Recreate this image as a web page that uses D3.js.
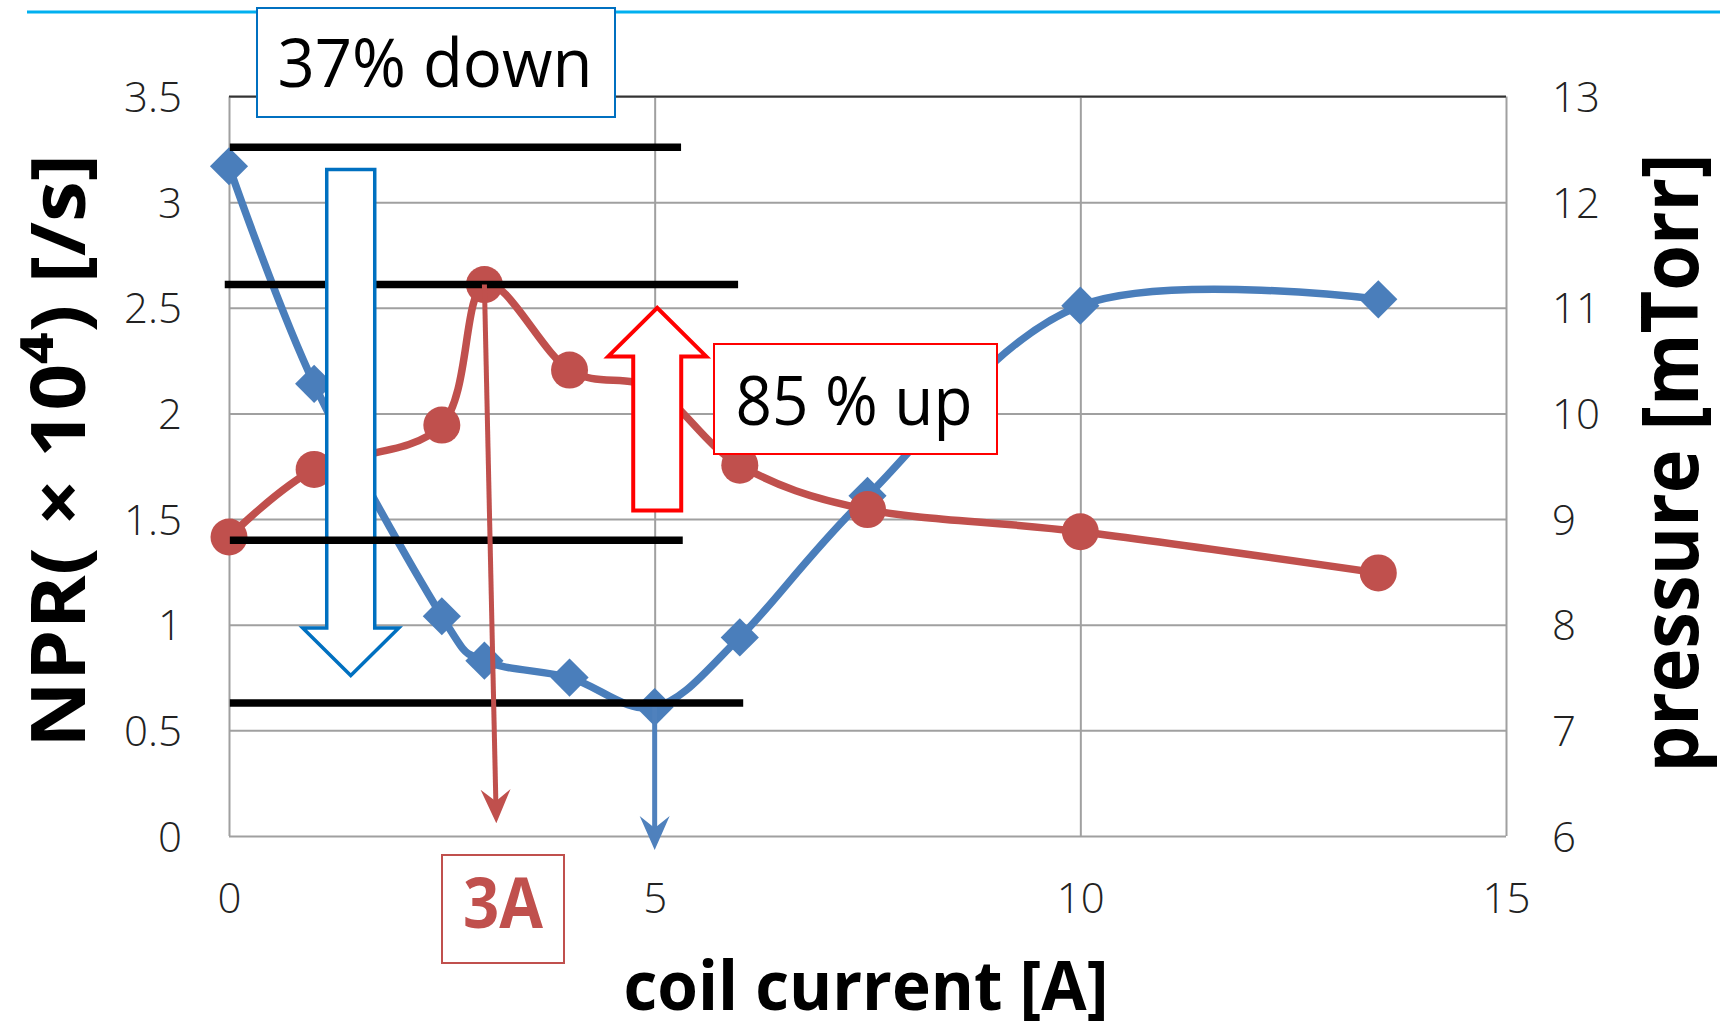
<!DOCTYPE html>
<html>
<head>
<meta charset="utf-8">
<script src="https://cdn.jsdelivr.net/npm/d3@7"></script>
<style>
  body { margin: 0; background: #fff; }
  svg { display: block; }
  .tick text { font-family: "Open Sans", sans-serif; font-weight: 300; fill: #222; }
</style>
</head>
<body>
<script>
// coil current [A] for every measured point
var current = [0, 1, 2.5, 3, 4, 5, 6, 7.5, 10, 13.5];
// NPR (x10^4 /s), left axis
var npr = [3.17, 2.14, 1.04, 0.83, 0.75, 0.61, 0.94, 1.61, 2.51, 2.54];
// pressure [mTorr], right axis
var pressure = [8.83, 9.47, 9.89, 11.22, 10.41, 10.23, 9.51, 9.09, 8.88, 8.49];

var xTicks = [0, 5, 10, 15];
var nprTicks = [0, 0.5, 1, 1.5, 2, 2.5, 3, 3.5];
var pressureTicks = [6, 7, 8, 9, 10, 11, 12, 13];

(function(){
    var width = 1720, height = 1032;
    var left = 229, right = 1506, top = 96.5, bottom = 836;

    var svg = d3.select("body").append("svg")
        .attr("width", width)
        .attr("height", height);

    var x = d3.scaleLinear().domain([0, 15]).range([left, right]);
    var yL = d3.scaleLinear().domain([0, 3.5]).range([bottom, top]);
    var yR = d3.scaleLinear().domain([6, 13]).range([bottom, top]);

    var blue = "#4a7ebb", red = "#c0504d";

    //cyan rule at the top of the slide
    svg.append("line")
        .attr("x1", 27).attr("x2", width)
        .attr("y1", 12).attr("y2", 12)
        .attr("stroke", "#00b0f0").attr("stroke-width", 3);

    //axes with gridlines
    var xAxis = svg.append("g")
        .attr("transform", "translate(0," + bottom + ")")
        .call(d3.axisBottom(x).tickValues(xTicks).tickSize(-(bottom - top)).tickPadding(47).tickFormat(d3.format("d")));
    var lAxis = svg.append("g")
        .attr("transform", "translate(" + left + ",0)")
        .call(d3.axisLeft(yL).tickValues(nprTicks).tickSize(-(right - left)).tickPadding(47).tickFormat(function(d){ return String(d); }));
    var rAxis = svg.append("g")
        .attr("transform", "translate(" + right + ",0)")
        .call(d3.axisRight(yR).tickValues(pressureTicks).tickSize(0).tickPadding(46).tickFormat(d3.format("d")));

    [xAxis, lAxis, rAxis].forEach(function(g){
        g.select(".domain").remove();
        g.selectAll(".tick line").attr("stroke", "#a0a0a0").attr("stroke-width", 2);
        g.selectAll(".tick text").attr("font-size", 42);
    });
    lAxis.selectAll(".tick text").attr("dy", "0.36em");
    rAxis.selectAll(".tick text").attr("dy", "0.36em");
    //top border is darker
    svg.append("line")
        .attr("x1", left).attr("x2", right)
        .attr("y1", top).attr("y2", top)
        .attr("stroke", "#333").attr("stroke-width", 2);

    //series lines (smoothed like the spreadsheet)
    var nprLine = d3.line()
        .x(function(d, i){ return x(current[i]); })
        .y(function(d){ return yL(d); })
        .curve(d3.curveCatmullRom.alpha(0));
    var pLine = d3.line()
        .x(function(d, i){ return x(current[i]); })
        .y(function(d){ return yR(d); })
        .curve(d3.curveCatmullRom.alpha(0));

    svg.append("path").datum(npr)
        .attr("d", nprLine)
        .attr("fill", "none").attr("stroke", blue).attr("stroke-width", 7.5);
    svg.append("path").datum(pressure)
        .attr("d", pLine)
        .attr("fill", "none").attr("stroke", red).attr("stroke-width", 7.5);

    svg.selectAll(".diamond").data(npr).enter()
        .append("rect")
        .attr("class", "diamond")
        .attr("x", -13.5).attr("y", -13.5)
        .attr("width", 27).attr("height", 27)
        .attr("transform", function(d, i){
            return "translate(" + x(current[i]) + "," + yL(d) + ") rotate(45)";
        })
        .attr("fill", blue);
    svg.selectAll(".dot").data(pressure).enter()
        .append("circle")
        .attr("class", "dot")
        .attr("cx", function(d, i){ return x(current[i]); })
        .attr("cy", function(d){ return yR(d); })
        .attr("r", 18.5)
        .attr("fill", red);

    //black reference levels
    function level(y, x1, x2){
        svg.append("line")
            .attr("x1", x(x1)).attr("x2", x(x2))
            .attr("y1", yL(y)).attr("y2", yL(y))
            .attr("stroke", "#000").attr("stroke-width", 7.5);
    }
    level(3.26, 0.01, 5.31);
    level(2.61, -0.05, 5.98);

    //block arrow helper (outline arrow)
    function blockArrow(cx, yStart, yNeck, yTip, shaftHalf, headHalf, color, sw){
        var px = x(cx), a = yL(yStart), b = yL(yNeck), c = yL(yTip);
        var pts = [[px - shaftHalf, a], [px + shaftHalf, a], [px + shaftHalf, b], [px + headHalf, b],
                   [px, c], [px - headHalf, b], [px - shaftHalf, b]];
        svg.append("path")
            .attr("d", d3.line()(pts) + "Z")
            .attr("fill", "#fff").attr("stroke", color).attr("stroke-width", sw)
            .attr("stroke-linejoin", "miter");
    }
    blockArrow(1.43, 3.155, 0.984, 0.76, 24, 48, "#0070c0", 3.5);

    level(1.40, 0.01, 5.33);
    level(0.63, 0.01, 6.04);

    blockArrow(5.03, 1.54, 2.27, 2.50, 24, 49, "#ff0000", 4);

    //thin pointer arrows
    function pointer(x1, y1, x2, y2, color){
        var ang = Math.atan2(y2 - y1, x2 - x1);
        svg.append("line")
            .attr("x1", x1).attr("y1", y1)
            .attr("x2", x2 - 14 * Math.cos(ang)).attr("y2", y2 - 14 * Math.sin(ang))
            .attr("stroke", color).attr("stroke-width", 5);
        var head = [[0, 0], [-34, -15], [-22, 0], [-34, 15]];
        svg.append("path")
            .attr("d", d3.line()(head) + "Z")
            .attr("transform", "translate(" + x2 + "," + y2 + ") rotate(" + (ang * 180 / Math.PI) + ")")
            .attr("fill", color);
    }
    pointer(x(current[3]), yR(pressure[3]), x(3.14), yL(0.06), red);
    pointer(x(current[5]), yL(npr[5]), x(5), yL(-0.066), "#4f81bd");

    //text boxes
    function textBox(x0, y0, w, h, border, txt, tx, ty, size, weight, fill, len){
        svg.append("rect")
            .attr("x", x0).attr("y", y0).attr("width", w).attr("height", h)
            .attr("fill", "#fff").attr("stroke", border).attr("stroke-width", 2);
        svg.append("text")
            .attr("x", tx).attr("y", ty)
            .attr("text-anchor", "middle")
            .attr("font-family", "Open Sans, sans-serif")
            .attr("font-size", size).attr("font-weight", weight)
            .attr("fill", fill)
            .attr("textLength", len).attr("lengthAdjust", "spacingAndGlyphs")
            .text(txt);
    }
    textBox(257, 8, 358, 109, "#0070c0", "37% down", 435, 87, 68, 400, "#000", 315);
    textBox(714, 344, 283, 110, "#ff0000", "85 % up", 854, 425, 68, 400, "#000", 237);
    textBox(442, 855, 122, 108, red, "3A", 503, 928, 70, 700, red, 80);

    //axis titles
    svg.append("text")
        .attr("transform", "translate(85,451) rotate(-90)")
        .attr("text-anchor", "middle")
        .attr("font-family", "Open Sans, sans-serif")
        .attr("font-size", 76).attr("font-weight", 700)
        .attr("textLength", 594).attr("lengthAdjust", "spacingAndGlyphs")
        .text("NPR( × 10⁴) [/s]");
    svg.append("text")
        .attr("transform", "translate(1698,463) rotate(-90)")
        .attr("text-anchor", "middle")
        .attr("font-family", "Open Sans, sans-serif")
        .attr("font-size", 78).attr("font-weight", 700)
        .attr("textLength", 619).attr("lengthAdjust", "spacingAndGlyphs")
        .text("pressure [mTorr]");
    svg.append("text")
        .attr("x", 866).attr("y", 1010)
        .attr("text-anchor", "middle")
        .attr("font-family", "Open Sans, sans-serif")
        .attr("font-size", 68).attr("font-weight", 700)
        .attr("textLength", 485).attr("lengthAdjust", "spacingAndGlyphs")
        .text("coil current [A]");
})();
</script>
</body>
</html>
